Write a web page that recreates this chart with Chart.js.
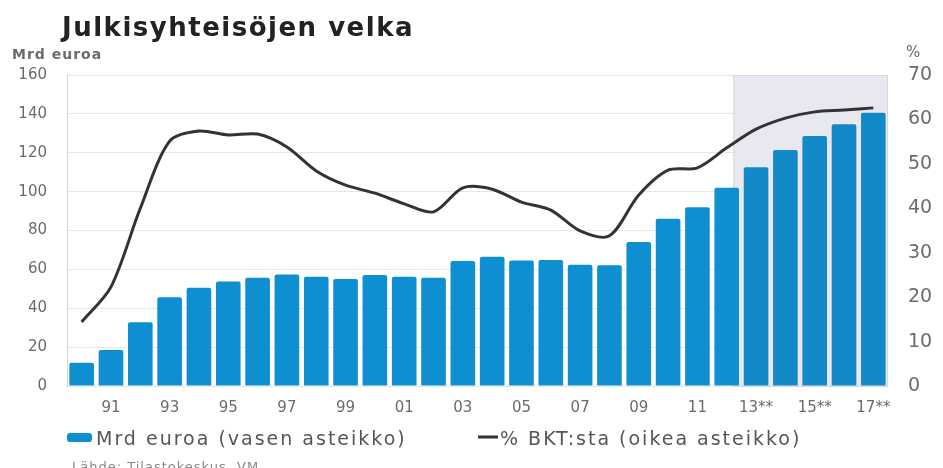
<!DOCTYPE html>
<html>
<head>
<meta charset="utf-8">
<script src="https://cdn.jsdelivr.net/npm/chart.js@4/dist/chart.umd.min.js"></script>
<style>
  html, body { margin: 0; padding: 0; background: #fff; }
  #wrap { width: 943px; height: 468px; }
</style>
</head>
<body>
<div id="wrap"><canvas id="chart" width="943" height="468"></canvas></div>
<script>
// years 1990-2017, forecasts marked with **
let yearLabels = ["90", "91", "92", "93", "94", "95", "96", "97", "98", "99",
  "00", "01", "02", "03", "04", "05", "06", "07", "08", "09",
  "10", "11", "12", "13**", "14**", "15**", "16**", "17**"];

// Mrd euroa (left axis)
let debtBillions = [12, 18.5, 32.8, 45.6, 50.6, 53.8, 55.7, 57.4, 56.2, 55,
  57.1, 56.2, 55.7, 64.3, 66.5, 64.6, 64.8, 62.4, 62.1, 74.1,
  86.1, 91.9, 102, 112.5, 121.4, 128.6, 134.6, 140.6];

// % BKT:sta (right axis)
let debtPctGdp = [14.4, 22.3, 40, 55.1, 57.4, 56.5, 56.7, 53.8, 48.4, 45.2,
  43.4, 41, 39.2, 44.6, 44.3, 41.4, 39.6, 34.9, 33.8, 43,
  48.6, 49.1, 53.6, 57.8, 60.3, 61.7, 62.1, 62.6];

let leftTicks = [0, 20, 40, 60, 80, 100, 120, 140, 160];
let rightTicks = [0, 10, 20, 30, 40, 50, 60, 70];

const firstForecast = 23; // index of 2013

const FONT = "'DejaVu Sans', Arial, sans-serif";
const GREY = "#6b6b6b";

// grey box behind forecast years + extra texts
const extrasPlugin = {
  id: "extras",
  beforeDatasetsDraw(chart) {
    const ctx = chart.ctx;
    const area = chart.chartArea;
    const x = chart.scales.x;
    const x0 = (x.getPixelForValue(firstForecast - 1) + x.getPixelForValue(firstForecast)) / 2 - 8;
    ctx.save();
    ctx.fillStyle = "#e8e9f0";
    ctx.fillRect(x0, area.top, area.right - x0, area.bottom - area.top);
    ctx.strokeStyle = "#d6d6dc";
    ctx.lineWidth = 1;
    ctx.strokeRect(x0 + 0.5, area.top + 0.5, area.right - x0 - 1, area.bottom - area.top);
    ctx.restore();
  },
  afterDraw(chart) {
    const ctx = chart.ctx;
    ctx.save();
    ctx.textBaseline = "alphabetic";
    ctx.fillStyle = "#222";
    ctx.letterSpacing = "1.5px";
    ctx.font = "bold 26px " + FONT;
    ctx.fillText("Julkisyhteisöjen velka", 62, 36);

    ctx.fillStyle = GREY;
    ctx.letterSpacing = "1px";
    ctx.font = "bold 14px " + FONT;
    ctx.fillText("Mrd euroa", 12, 59);
    ctx.letterSpacing = "0px";
    ctx.font = "15px " + FONT;
    ctx.fillText("%", 906, 57);

    // legend
    ctx.fillStyle = "#0d8fd2";
    ctx.beginPath();
    ctx.roundRect(67, 433, 25, 9, 3);
    ctx.fill();
    ctx.fillStyle = "#555";
    ctx.letterSpacing = "2px";
    ctx.font = "19px " + FONT;
    ctx.fillText("Mrd euroa (vasen asteikko)", 96, 445);

    ctx.strokeStyle = "#333";
    ctx.lineWidth = 3;
    ctx.beginPath();
    ctx.moveTo(478, 437);
    ctx.lineTo(498, 437);
    ctx.stroke();
    ctx.fillText("% BKT:sta (oikea asteikko)", 500, 445);

    ctx.fillStyle = "#888";
    ctx.letterSpacing = "1px";
    ctx.font = "13px " + FONT;
    ctx.fillText("Lähde: Tilastokeskus, VM", 72, 471);
    ctx.restore();
  }
};

function creatingGraph() {
  let ctx = document.getElementById("chart").getContext("2d");
  new Chart(ctx, {
    type: "bar",
    data: {
      labels: yearLabels,
      datasets: [
        {
          type: "line",
          label: "% BKT:sta (oikea asteikko)",
          data: debtPctGdp,
          yAxisID: "y2",
          borderColor: "#333",
          borderWidth: 3,
          pointRadius: 0,
          tension: 0.3,
          order: 0,
        },
        {
          label: "Mrd euroa (vasen asteikko)",
          data: debtBillions,
          yAxisID: "y",
          backgroundColor: debtBillions.map((v, i) => (i >= firstForecast ? "#1389c8" : "#0d8fd2")),
          borderRadius: 2,
          barPercentage: 0.84,
          categoryPercentage: 1,
          order: 1,
        },
      ],
    },
    options: {
      responsive: false,
      animation: false,
      layout: { padding: { top: 75, bottom: 52, left: 0, right: 0 } },
      plugins: {
        legend: { display: false },
        tooltip: { enabled: false },
      },
      scales: {
        x: {
          offset: true,
          afterFit: (s) => { s.height = 30; },
          grid: { display: false },
          border: { display: false },
          ticks: {
            autoSkip: false,
            maxRotation: 0,
            color: GREY,
            font: { family: FONT, size: 15 },
            padding: 5,
            callback: function (value, index) {
              return index % 2 === 1 ? yearLabels[index] : "";
            },
          },
        },
        y: {
          position: "left",
          min: 0,
          max: 160,
          afterFit: (s) => { s.width = 67; },
          afterBuildTicks: (s) => { s.ticks = leftTicks.map((v) => ({ value: v })); },
          grid: { color: "#e6e6e6", lineWidth: 1, drawTicks: false },
          border: { display: true, color: "#d4d4d4" },
          ticks: {
            color: GREY,
            font: { family: FONT, size: 15 },
            padding: 20,
          },
        },
        y2: {
          position: "right",
          min: 0,
          max: 70,
          afterFit: (s) => { s.width = 55; },
          afterBuildTicks: (s) => { s.ticks = rightTicks.map((v) => ({ value: v })); },
          grid: { display: false },
          border: { display: false },
          ticks: {
            color: GREY,
            font: { family: FONT, size: 19 },
            padding: 12,
          },
        },
      },
    },
    plugins: [extrasPlugin],
  });
}
window.addEventListener("load", creatingGraph);
</script>
</body>
</html>
